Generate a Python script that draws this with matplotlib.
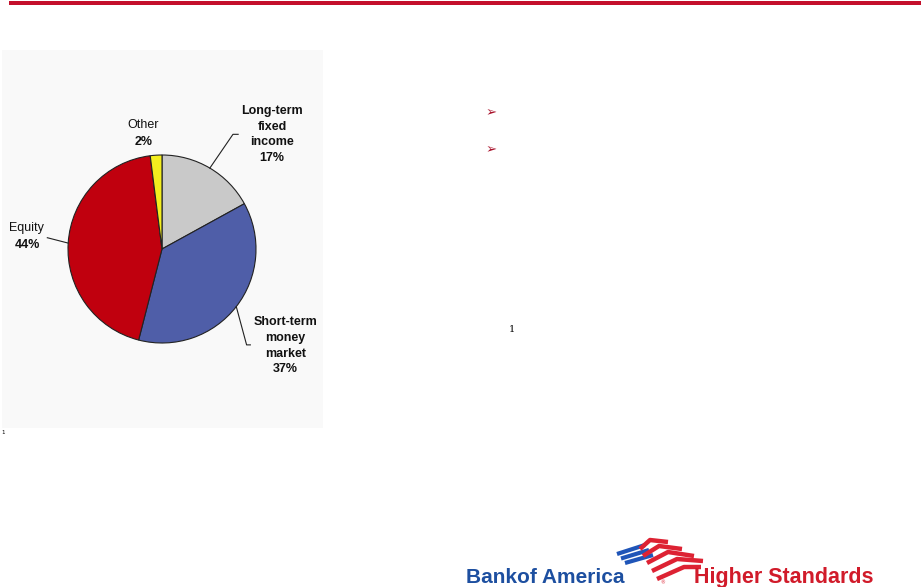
import matplotlib
matplotlib.use("Agg")
import matplotlib.pyplot as plt
from matplotlib.patches import Rectangle
import numpy as np

# Asset mix shown in the pie
categories = ["Long-term\nfixed\nincome", "Short-term\nmoney\nmarket", "Equity", "Other"]
shares = [17, 37, 44, 2]
colors = ["#c9c9c9", "#4f5ea8", "#c0000e", "#f3ee1e"]

W, H = 921, 587
fig = plt.figure(figsize=(W / 100, H / 100), dpi=100)
fig.patch.set_facecolor("white")

# overlay axes in pixel coordinates for slide decorations
bg = fig.add_axes([0, 0, 1, 1])
bg.set_xlim(0, W)
bg.set_ylim(H, 0)
bg.axis("off")

# red rule at the top of the slide
bg.add_patch(Rectangle((9, 1), W - 9, 3.5, color="#c4102c", lw=0))
# light panel behind the pie
bg.add_patch(Rectangle((2, 50), 321, 378, color="#f9f9f9", lw=0))

# pie axes: centre (162, 249), radius 94 px
cx, cy, R = 162, 249, 94
ax = fig.add_axes([(cx - R) / W, (H - cy - R) / H, 2 * R / W, 2 * R / H])
ax.set_zorder(2)
wedges, _ = ax.pie(shares, colors=colors, startangle=90, counterclock=False,
                   wedgeprops=dict(edgecolor="#222222", linewidth=0.8))
ax.set_xlim(-1, 1)
ax.set_ylim(-1, 1)
ax.set_aspect("equal")

lab = dict(fontsize=9, family="Liberation Sans", ha="center", va="center",
           linespacing=1.4, color="#111111", annotation_clip=False)


def mid(w):
    a = np.deg2rad((w.theta1 + w.theta2) / 2)
    return np.cos(a), np.sin(a)


# Long-term fixed income
x0, y0 = mid(wedges[0])
ax.plot([x0, 0.755, 0.81], [y0, 1.22, 1.22], color="#222222", lw=0.8, clip_on=False)
ax.annotate(f"{categories[0]}\n{shares[0]}%", xy=(1.17, 1.22), fontweight="bold", **lab)

# Short-term money market
x0, y0 = mid(wedges[1])
ax.plot([x0, 0.90, 0.94], [y0, -1.02, -1.02], color="#222222", lw=0.8, clip_on=False)
ax.annotate(f"{categories[1]}\n{shares[1]}%", xy=(1.31, -1.03), fontweight="bold", **lab)

# Equity
x0, y0 = mid(wedges[2])
ax.plot([x0, -1.22], [y0, 0.12], color="#222222", lw=0.8, clip_on=False)
ax.annotate(categories[2], xy=(-1.44, 0.22), **lab)
ax.annotate(f"{shares[2]}%", xy=(-1.43, 0.04), fontweight="bold", **lab)

# Other
ax.annotate(categories[3], xy=(-0.20, 1.32), **lab)
ax.annotate(f"{shares[3]}%", xy=(-0.20, 1.14), fontweight="bold", **lab)

# bullets and footnote marker on the right-hand side
for yb in (113, 150):
    bg.text(491, yb, "\u27a2", fontsize=9.5, color="#a8102a", ha="center", va="center",
            family="DejaVu Sans", fontweight="bold")
bg.text(512, 330, "1", fontsize=7, family="DejaVu Serif", ha="center", va="center")
bg.text(3, 433, "1", fontsize=4, family="DejaVu Sans", ha="center", va="center")

# logo: wordmark + flag
bg.text(466, 583, "Bankof America", fontsize=15, fontweight="bold", color="#1d4fa0",
        family="Liberation Sans", ha="left", va="baseline")
bg.text(694, 583, "Higher Standards", fontsize=15.5, fontweight="bold", color="#d11b2a",
        family="Liberation Sans", ha="left", va="baseline")

blue = "#1f55b8"
red = "#dd2233"
# three blue stripes, rising to the right
for k in range(3):
    bg.plot([617 + 4 * k, 645 + 4 * k], [554 + 4.5 * k, 545 + 5 * k],
            color=blue, lw=3.0, solid_capstyle="butt")
# red stripes fanning out like a waving flag
red_x = [[640, 650, 668], [643, 659, 682], [647, 668, 694], [652, 677, 703], [657, 684, 701]]
red_y = [[549, 540, 542], [556, 546, 549], [563, 552, 556], [571, 559, 561], [579, 567, 567]]
for xs, ys in zip(red_x, red_y):
    bg.plot(xs, ys, color=red, lw=3.2, solid_capstyle="butt", solid_joinstyle="round")
bg.text(663, 583, "®", fontsize=3.5, color=red, ha="center", va="center")

fig.savefig("out.png", dpi=100, facecolor="white")
